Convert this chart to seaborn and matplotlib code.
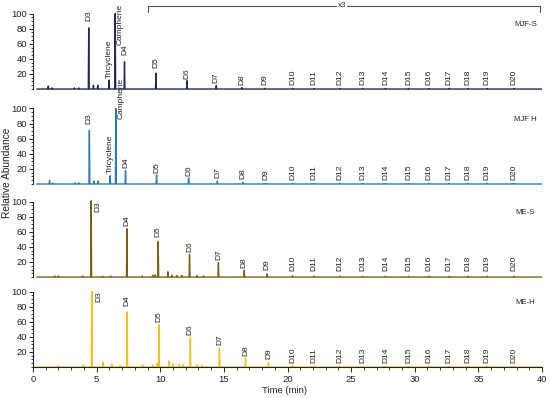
import numpy as np
import pandas as pd
import matplotlib
matplotlib.use("Agg")
import matplotlib.pyplot as plt
import seaborn as sns
from matplotlib.ticker import MultipleLocator

sns.set_theme(style="white")
plt.rcParams['font.family'] = ['Liberation Sans', 'DejaVu Sans']

# ---------------- data ----------------
samples = ["MJF-S", "MJF H", "ME-S", "ME-H"]
colors = ["#1d2b5e", "#2b79b8", "#7b5f10", "#f1c21c"]

# D-series retention times (min) per sample
d_names = ["D3", "D4", "D5", "D6", "D7", "D8", "D9", "D10", "D11", "D12", "D13",
           "D14", "D15", "D16", "D17", "D18", "D19", "D20"]
d_times_mjfs = [4.38, 7.19, 9.66, 12.1, 14.4, 16.4, 18.2, 20.4, 22.1, 24.1, 25.9,
                27.7, 29.5, 31.1, 32.7, 34.2, 35.7, 37.8]
d_times_mjfh = [4.43, 7.27, 9.71, 12.23, 14.49, 16.5, 18.3, 20.4, 22.1, 24.1, 25.9,
                27.7, 29.5, 31.1, 32.7, 34.2, 35.7, 37.8]
d_times_mes = [4.57, 7.38, 9.84, 12.3, 14.57, 16.6, 18.4, 20.4, 22.1, 24.1, 25.9,
               27.7, 29.5, 31.1, 32.7, 34.2, 35.7, 37.8]
d_times_meh = [4.62, 7.4, 9.9, 12.36, 14.65, 16.7, 18.5, 20.4, 22.1, 24.1, 25.9,
               27.7, 29.5, 31.1, 32.7, 34.2, 35.7, 37.8]

# D-series peak heights (relative abundance)
d_heights_mjfs = [81, 36, 21, 11, 4.5, 2, 1, 0.8, 0.8, 0.8, 0.8, 0.8, 0.8, 0.8, 0.8, 0.8, 0.8, 0.8]
d_heights_mjfh = [71, 18, 12, 8, 4, 2, 1, 0.8, 0.8, 0.8, 0.8, 0.8, 0.8, 0.8, 0.8, 0.8, 0.8, 0.8]
d_heights_mes = [101, 64, 47, 30, 19, 9, 4, 1.5, 1.2, 1.2, 1, 1, 1, 1, 1, 1, 1, 1]
d_heights_meh = [100, 73, 56, 39, 25, 12, 6, 2, 1.5, 1.2, 1, 1, 1, 1, 1, 1, 1, 1]

# terpene peaks (MJF samples)
terp_names = ["Tricyclene", "Camphene"]
terp_times_mjfs = [5.98, 6.46]
terp_heights_mjfs = [12, 100]
terp_times_mjfh = [6.06, 6.51]
terp_heights_mjfh = [11, 100]

# minor unlabelled peaks
minor_times_mjfs = [1.2, 1.5, 3.25, 3.6, 4.75, 5.09]
minor_heights_mjfs = [4, 1.5, 1.5, 1.5, 5, 5]
minor_times_mjfh = [1.3, 1.55, 3.3, 3.6, 4.8, 5.12]
minor_heights_mjfh = [5, 1.5, 1.5, 1.5, 4, 4]
minor_times_mes = [1.7, 2.0, 3.9, 5.5, 6.1, 8.6, 9.4, 9.6, 10.6, 10.9, 11.3, 11.7, 12.9, 13.4]
minor_heights_mes = [1.5, 1.5, 1.5, 1, 1.5, 1.5, 2.5, 3, 7, 2.5, 2, 2, 2, 1.5]
minor_times_meh = [2.0, 3.96, 5.5, 6.2, 6.85, 8.6, 9.4, 9.75, 10.7, 11.0, 11.5, 11.8, 12.9, 13.3]
minor_heights_meh = [2, 3, 6, 4, 2, 3, 3, 5, 8, 4, 4, 3, 3, 2]

x_ticks = [0, 5, 10, 15, 20, 25, 30, 35, 40]
y_ticks = [20, 40, 60, 80, 100]

all_d_times = [d_times_mjfs, d_times_mjfh, d_times_mes, d_times_meh]
all_d_heights = [d_heights_mjfs, d_heights_mjfh, d_heights_mes, d_heights_meh]
all_terp = [(terp_times_mjfs, terp_heights_mjfs), (terp_times_mjfh, terp_heights_mjfh), None, None]
all_minor = [(minor_times_mjfs, minor_heights_mjfs), (minor_times_mjfh, minor_heights_mjfh),
             (minor_times_mes, minor_heights_mes), (minor_times_meh, minor_heights_meh)]

# label bottoms (layout) for D labels, data units
label_y = [
    [90, 45, 28, 13, 8, 6, 5] + [5] * 11,
    [80, 21, 14, 10, 8, 6, 5] + [5] * 11,
    [None, 68, 53, 33, 23, 12, 9] + [8] * 11,
    [None, 81, 60, 42, 29, 15, 10] + [5] * 11,
]

LAB = 6.0
TXT = "#222222"


def build_trace(peaks_t, peaks_h, w=0.035):
    order = np.argsort(peaks_t)
    xs, ys = [0.3], [0.0]
    for i in order:
        t, h = peaks_t[i], peaks_h[i]
        xs += [t - w, t, t + w]
        ys += [0.0, h, 0.0]
    xs.append(40.0)
    ys.append(0.0)
    return pd.DataFrame({"time": xs, "abund": ys})


fig = plt.figure(figsize=(5.5, 3.98), dpi=100)
bottoms = [0.7706, 0.532, 0.2982, 0.0721]
axes = []
for k in range(4):
    ax = fig.add_axes([0.06, bottoms[k], 0.9255, 0.203])
    axes.append(ax)
    ts = list(all_d_times[k])
    hs = list(all_d_heights[k])
    if all_terp[k] is not None:
        ts += all_terp[k][0]
        hs += all_terp[k][1]
    ts += all_minor[k][0]
    hs += all_minor[k][1]
    df = build_trace(ts, hs)
    sns.lineplot(data=df, x="time", y="abund", ax=ax, color=colors[k],
                 lw=1.0, estimator=None, sort=True)
    ax.set_xlim(0, 40)
    ax.set_ylim(-3, 104)
    ax.set_xlabel("")
    ax.set_ylabel("")
    for s in ["top", "right"]:
        ax.spines[s].set_visible(False)
    ax.spines["left"].set_bounds(0, 100)
    ax.spines["left"].set_color(TXT)
    ax.spines["left"].set_linewidth(0.8)
    ax.set_yticks(y_ticks)
    ax.yaxis.set_minor_locator(MultipleLocator(5))
    ax.tick_params(axis="y", which="major", direction="out", length=3, width=0.7,
                   labelsize=6.8, pad=1, colors=TXT, left=True)
    ax.tick_params(axis="y", which="minor", direction="out", length=1.8, width=0.6,
                   colors=TXT, left=True)
    ax.patch.set_alpha(0)

    if k < 3:
        ax.spines["bottom"].set_visible(False)
        ax.set_xticks([])
    else:
        ax.spines["bottom"].set_position(("data", 0))
        ax.spines["bottom"].set_color(TXT)
        ax.spines["bottom"].set_linewidth(0.8)
        ax.set_xticks(x_ticks)
        ax.xaxis.set_minor_locator(MultipleLocator(1))
        ax.tick_params(axis="x", which="major", direction="out", length=3.5, width=0.7,
                       labelsize=6.8, pad=2, colors=TXT, bottom=True)
        ax.tick_params(axis="x", which="minor", direction="out", length=2, width=0.6,
                       colors=TXT, bottom=True)

    # D labels
    for i, name in enumerate(d_names):
        t = all_d_times[k][i]
        yb = label_y[k][i]
        if yb is None:
            ax.text(t + 0.55, 100, name, rotation=90, ha="center", va="top",
                    fontsize=LAB, color=TXT)
        else:
            ax.text(t, yb, name, rotation=90, ha="center", va="bottom",
                    fontsize=LAB, color=TXT)
    if all_terp[k] is not None:
        tt, th = all_terp[k]
        ax.text(tt[0], th[0] + 3, terp_names[0], rotation=90, ha="center", va="bottom",
                fontsize=LAB, color=TXT)
        cam_y = 58 if k == 0 else 86
        ax.text(tt[1] + 0.42, cam_y, terp_names[1], rotation=90, ha="center", va="bottom",
                fontsize=LAB, color=TXT, clip_on=False, zorder=0)

    ax.text(38.7, 86, samples[k], ha="center", va="center", fontsize=5.6, color=TXT)

# x3 bracket on top panel
ax0 = axes[0]
ax0.plot([9.0, 9.0, 39.85, 39.85], [102, 110, 110, 102], color="#555555", lw=0.8,
         clip_on=False)
ax0.text(24.3, 110, "x3", ha="center", va="center", fontsize=5.8, color=TXT,
         bbox=dict(facecolor="white", edgecolor="none", pad=0.6), clip_on=False)

fig.text(0.013, 0.565, "Relative Abundance", rotation=90, ha="center", va="center",
         fontsize=7.3, color=TXT)
fig.text(0.518, 0.018, "Time (min)", ha="center", va="center", fontsize=6.8,
         color=TXT)

fig.savefig("out.png", dpi=100)
